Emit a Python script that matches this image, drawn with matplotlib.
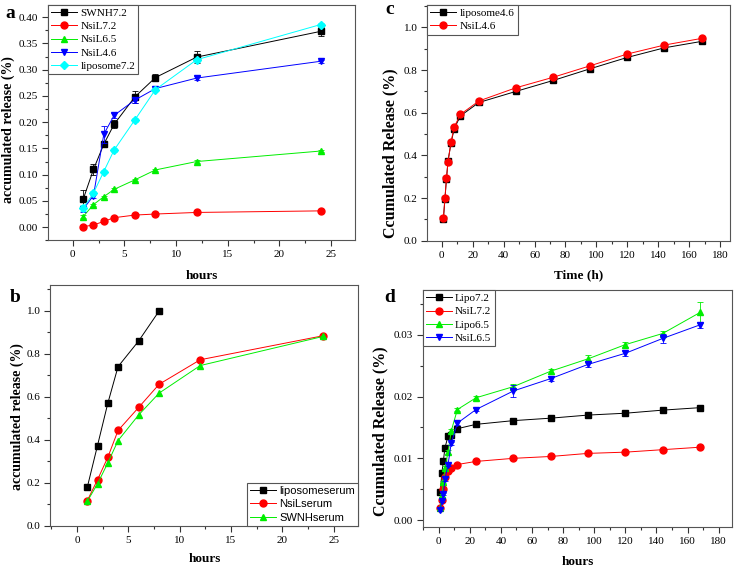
import numpy as np
import matplotlib
matplotlib.use('Agg')
import matplotlib.pyplot as plt
from matplotlib.ticker import MultipleLocator

plt.rcParams['font.family'] = ['Liberation Serif', 'DejaVu Serif']
plt.rcParams['mathtext.fontset'] = 'stix'

# ---- panel a: release at different pH ----
hours_a = [1, 2, 3, 4, 6, 8, 12, 24]
swnh72 = [0.053, 0.110, 0.158, 0.196, 0.248, 0.285, 0.324, 0.373]
swnh72_err = [0.018, 0.010, 0.005, 0.008, 0.012, 0.006, 0.011, 0.008]
nsil72 = [0.001, 0.004, 0.011, 0.018, 0.023, 0.025, 0.028, 0.031]
nsil72_err = [0.002, 0.002, 0.002, 0.002, 0.002, 0.002, 0.002, 0.002]
nsil65 = [0.020, 0.043, 0.058, 0.072, 0.090, 0.109, 0.125, 0.145]
nsil65_err = [0.003, 0.002, 0.002, 0.002, 0.002, 0.002, 0.002, 0.002]
nsil46 = [0.034, 0.060, 0.177, 0.213, 0.242, 0.264, 0.284, 0.316]
nsil46_err = [0.005, 0.004, 0.016, 0.005, 0.006, 0.004, 0.003, 0.003]
lipo72 = [0.036, 0.065, 0.106, 0.147, 0.204, 0.262, 0.319, 0.386]
lipo72_err = [0.006, 0.004, 0.003, 0.003, 0.003, 0.003, 0.004, 0.003]

# ---- panel b: release in serum ----
hours_b_lipo = [1, 2, 3, 4, 6, 8]
liposerum = [0.179, 0.374, 0.570, 0.741, 0.860, 1.000]
hours_b = [1, 2, 3, 4, 6, 8, 12, 24]
nsilserum = [0.117, 0.215, 0.319, 0.444, 0.551, 0.659, 0.773, 0.885]
swnhserum = [0.114, 0.196, 0.293, 0.397, 0.516, 0.618, 0.746, 0.882]

# ---- panel c: long term release pH 4.6 ----
time_c = [1, 2, 3, 4, 6, 8, 12, 24, 48, 72, 96, 120, 144, 168]
lipo46 = [0.100, 0.195, 0.290, 0.375, 0.460, 0.525, 0.585, 0.648,
          0.700, 0.751, 0.806, 0.859, 0.904, 0.934]
nsil46_c = [0.107, 0.200, 0.292, 0.370, 0.465, 0.533, 0.592, 0.655,
            0.717, 0.766, 0.820, 0.875, 0.917, 0.948]

# ---- panel d: long term release pH 7.2 / 6.5 ----
time_d = [1, 2, 3, 4, 6, 8, 12, 24, 48, 72, 96, 120, 144, 168]
lipo72_d = [0.0046, 0.0076, 0.0096, 0.0117, 0.0136, 0.0138, 0.0148, 0.0155,
            0.0161, 0.0165, 0.0170, 0.0173, 0.0178, 0.0182]
nsil72_d = [0.0020, 0.0032, 0.0050, 0.0070, 0.0080, 0.0085, 0.0090, 0.0095,
            0.0100, 0.0103, 0.0108, 0.0110, 0.0114, 0.0118]
lipo65_d = [0.0020, 0.0040, 0.0062, 0.0085, 0.0110, 0.0144, 0.0179, 0.0198,
            0.0216, 0.0241, 0.0261, 0.0284, 0.0302, 0.0336]
lipo65_d_err = [0.0002, 0.0002, 0.0002, 0.0002, 0.0003, 0.0003, 0.0003, 0.0003,
                0.0004, 0.0004, 0.0007, 0.0004, 0.0004, 0.0017]
nsil65_d = [0.0017, 0.0031, 0.0042, 0.0066, 0.0090, 0.0124, 0.0157, 0.0179,
            0.0209, 0.0229, 0.0252, 0.0270, 0.0294, 0.0316]
nsil65_d_err = [0.0002, 0.0002, 0.0002, 0.0003, 0.0003, 0.0003, 0.0003, 0.0003,
                0.0010, 0.0004, 0.0004, 0.0004, 0.0007, 0.0005]

BLACK, RED, GREEN, BLUE, CYAN = '#000000', '#ff0000', '#00ee00', '#0000ff', '#00ffff'
LW = 0.7
MS = 5


def series(ax, x, y, color, marker, label, err=None, ms=MS):
    # error bars drawn first, line + marker on top (legend shows line only)
    if err is not None:
        ax.errorbar(x, y, yerr=err, fmt='none', ecolor=color, elinewidth=0.6,
                    capsize=2.5, capthick=0.6)
    ax.plot(x, y, color=color, lw=LW, marker=marker, ms=ms,
            mec=color, mfc=color, label=label)


def style_axes(ax, xmaj, ymaj, xlim, ylim, yfmt):
    ax.set_xlim(*xlim)
    ax.set_ylim(*ylim)
    ax.xaxis.set_major_locator(MultipleLocator(xmaj))
    ax.xaxis.set_minor_locator(MultipleLocator(xmaj / 2))
    ax.yaxis.set_major_locator(MultipleLocator(ymaj))
    ax.yaxis.set_minor_locator(MultipleLocator(ymaj / 2))
    ax.yaxis.set_major_formatter(plt.FormatStrFormatter(yfmt))
    ax.tick_params(which='both', direction='out', top=False, right=False,
                   labelsize=8, width=0.8, color='#333333', pad=3)
    ax.tick_params(which='major', length=4)
    ax.tick_params(which='minor', length=2.5)
    for sp in ax.spines.values():
        sp.set_linewidth(0.8)
        sp.set_color('#555555')


def legend(ax, loc, family='Liberation Serif'):
    leg = ax.legend(loc=loc, borderaxespad=0, fancybox=False, framealpha=1,
                    edgecolor='#555555', prop={'family': family, 'size': 8},
                    labelspacing=0.3, handlelength=2.3, handletextpad=0.3,
                    borderpad=0.3)
    leg.get_frame().set_linewidth(0.8)


def labels(ax, xl, yl, xcoord, ycoord, yfs):
    ax.set_xlabel(xl, fontsize=9.5, fontweight='bold')
    ax.set_ylabel(yl, fontsize=yfs, fontweight='bold')
    ax.xaxis.set_label_coords(*xcoord)
    ax.yaxis.set_label_coords(*ycoord)


fig = plt.figure(figsize=(7.39, 5.68), dpi=100)
ax_a = fig.add_axes([0.065, 0.577, 0.415, 0.414])
ax_c = fig.add_axes([0.578, 0.576, 0.410, 0.415])
ax_b = fig.add_axes([0.068, 0.074, 0.417, 0.424])
ax_d = fig.add_axes([0.572, 0.072, 0.419, 0.417])

# panel a
series(ax_a, hours_a, swnh72, BLACK, 's', 'SWNH7.2', swnh72_err)
series(ax_a, hours_a, nsil72, RED, 'o', 'NsiL7.2', nsil72_err)
series(ax_a, hours_a, nsil65, GREEN, '^', 'NsiL6.5', nsil65_err)
series(ax_a, hours_a, nsil46, BLUE, 'v', 'NsiL4.6', nsil46_err)
series(ax_a, hours_a, lipo72, CYAN, 'D', 'liposome7.2', lipo72_err, ms=4.5)
style_axes(ax_a, 5, 0.05, (-2.4, 27.3), (-0.025, 0.423), '%.2f')
legend(ax_a, 'upper left')
labels(ax_a, 'hours', 'accumulated release (%)', (0.5, -0.125), (-0.107, 0.47), 10)

# panel b
series(ax_b, hours_b_lipo, liposerum, BLACK, 's', 'liposomeserum')
series(ax_b, hours_b, nsilserum, RED, 'o', 'NsiLserum')
series(ax_b, hours_b, swnhserum, GREEN, '^', 'SWNHserum')
style_axes(ax_b, 5, 0.2, (-2.6, 27.4), (0, 1.12), '%.1f')
legend(ax_b, 'lower right', family='Liberation Sans')
labels(ax_b, 'hours', 'accumulated release (%)', (0.5, -0.112), (-0.086, 0.456), 10)

# panel c
series(ax_c, time_c, lipo46, BLACK, 's', 'liposome4.6')
series(ax_c, time_c, nsil46_c, RED, 'o', 'NsiL4.6')
style_axes(ax_c, 20, 0.2, (-9.5, 186.5), (0, 1.104), '%.1f')
legend(ax_c, 'upper left')
labels(ax_c, 'Time (h)', 'Ccumulated Release (%)', (0.5, -0.119), (-0.096, 0.37), 11.5)

# panel d
series(ax_d, time_d, lipo72_d, BLACK, 's', 'Lipo7.2')
series(ax_d, time_d, nsil72_d, RED, 'o', 'NsiL7.2')
series(ax_d, time_d, lipo65_d, GREEN, '^', 'Lipo6.5', lipo65_d_err)
series(ax_d, time_d, nsil65_d, BLUE, 'v', 'NsiL6.5', nsil65_d_err)
style_axes(ax_d, 20, 0.01, (-10.3, 188.8), (-0.00113, 0.0372), '%.2f')
legend(ax_d, 'upper left')
labels(ax_d, 'hours', 'Ccumulated Release (%)', (0.5, -0.12), (-0.11, 0.405), 11.5)

# panel letters
for txt, x, y in [('a', 10, 14), ('c', 390, 10), ('b', 15, 297), ('d', 390, 298)]:
    fig.text(x / 739, 1 - y / 568, txt, fontsize=14, fontweight='bold',
             ha='center', va='center')

fig.savefig('out.png', dpi=100)
